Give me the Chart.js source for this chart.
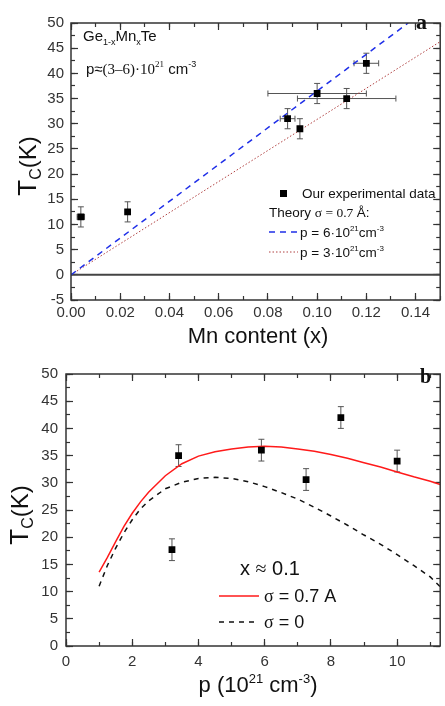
<!DOCTYPE html>
<html>
<head>
<meta charset="utf-8">
<script src="https://cdn.jsdelivr.net/npm/chart.js@4/dist/chart.umd.min.js"></script>
<style>
body { margin: 0; background: #fff; width: 445px; height: 706px; overflow: hidden; }
#wrapA { position: absolute; left: 0; top: 0; width: 445px; height: 350px; }
#wrapB { position: absolute; left: 0; top: 350px; width: 445px; height: 356px; }
</style>
</head>
<body>
<div id="wrapA"><canvas id="chartA"></canvas></div>
<div id="wrapB"><canvas id="chartB"></canvas></div>
<script>
// panel a: Tc against Mn content
const mnX = [0.004, 0.023, 0.088, 0.093, 0.100, 0.112, 0.120];
const mnTc = [11.5, 12.5, 31, 29, 36, 35, 42];
const mnXErr = [0.0015, 0, 0.003, 0, 0.02, 0.02, 0.005];
const mnTcErr = [2, 2, 2, 2, 2, 2, 2];
const theoryX = [0, 0.137];
const theoryP6 = [0, 50];
const theoryX3 = [0, 0.15];
const theoryP3 = [0, 46.3];
const zeroX = [0, 0.15];
const zeroY = [0, 0];

// panel b: Tc against carrier density, x ~ 0.1
const carrierP = [3.2, 3.4, 5.9, 7.25, 8.3, 10.0];
const carrierTc = [17.7, 35, 36, 30.6, 42, 34];
const carrierTcErr = [2, 2, 2, 2, 2, 2];
const curveP = [1.0, 1.25, 1.5, 1.75, 2.0, 2.25, 2.5, 3.0, 3.5, 4.0, 4.5, 5.0, 5.5, 6.0, 6.5, 7.0, 7.5, 8.0, 8.5, 9.0, 9.5, 10.0, 10.5, 11.0, 11.3];
const curveSigma07 = [13.6, 16.3, 19.2, 22.0, 24.4, 26.5, 28.3, 31.3, 33.5, 34.9, 35.7, 36.2, 36.6, 36.7, 36.6, 36.2, 35.8, 35.2, 34.5, 33.7, 32.9, 32.0, 31.1, 30.3, 29.7];
const curveSigma0 = [11.0, 14.8, 18.0, 20.8, 23.2, 25.2, 26.7, 28.9, 30.1, 30.8, 31.0, 30.8, 30.2, 29.3, 28.2, 27.0, 25.5, 23.9, 22.2, 20.4, 18.7, 16.8, 14.8, 12.7, 10.9];

const SANS = 'Liberation Sans';
const SERIF = 'Liberation Serif';
const TICK_COLOR = '#333';
const pts = (xs, ys) => xs.map((x, i) => ({ x: x, y: ys[i] }));

// draws a run of text pieces: [text, font, dy]
function rich(ctx, x, y, parts, align) {
    let w = 0;
    parts.forEach(p => { ctx.font = p[1]; w += ctx.measureText(p[0]).width; });
    let cx = align === 'center' ? x - w / 2 : x;
    parts.forEach(p => {
        ctx.font = p[1];
        ctx.fillText(p[0], cx, y + (p[2] || 0));
        cx += ctx.measureText(p[0]).width;
    });
}

// inward tick marks: negative tickLength, no labels, zero size in the layout
function tickAxis(pos, min, max, step, len, weight) {
    return {
        type: 'linear', position: pos, min: min, max: max, weight: weight,
        grid: { display: true, drawOnChartArea: false, drawTicks: true, tickLength: -len, tickColor: TICK_COLOR, tickWidth: 1.2 },
        border: { display: false },
        ticks: { display: false, stepSize: step, includeBounds: false, autoSkip: false },
        afterFit: s => { if (s.isHorizontal()) s.height = 0; else s.width = 0; }
    };
}

// the labelled axis: major inward ticks plus tick labels
function mainAxis(pos, min, max, step, padding, size, callback) {
    return {
        type: 'linear', position: pos, min: min, max: max, weight: 0,
        grid: { display: true, drawOnChartArea: false, drawTicks: true, tickLength: -7, tickColor: TICK_COLOR, tickWidth: 1.2 },
        border: { display: false },
        ticks: { stepSize: step, includeBounds: false, autoSkip: false, maxRotation: 0, padding: padding + 7, color: '#333', font: { family: SANS, size: 15 }, callback: callback },
        afterFit: s => { if (s.isHorizontal()) s.height = size; else s.width = size; }
    };
}

function frameScales(x, y) {
    return {
        x: mainAxis('bottom', x.min, x.max, x.major, x.pad, x.size, x.fmt),
        xMinor: tickAxis('bottom', x.min, x.max, x.minor, 4, -1),
        xTop: tickAxis('top', x.min, x.max, x.major, 7, 0),
        xTopMinor: tickAxis('top', x.min, x.max, x.minor, 4, -1),
        y: mainAxis('left', y.min, y.max, y.major, y.pad, y.size, y.fmt),
        yMinor: tickAxis('left', y.min, y.max, y.minor, 4, -1),
        yRight: tickAxis('right', y.min, y.max, y.major, 7, 0),
        yRightMinor: tickAxis('right', y.min, y.max, y.minor, 4, -1),
    };
}

// box round the plot
const frameBox = {
    id: 'frameBox',
    afterDraw(chart) {
        const ctx = chart.ctx;
        const a = chart.chartArea;
        ctx.save();
        ctx.strokeStyle = '#333';
        ctx.lineWidth = 1.5;
        ctx.strokeRect(a.left, a.top, a.right - a.left, a.bottom - a.top);
        ctx.restore();
    }
};

// error bars for dataset 0
function errorBars(xErr, yErr) {
    return {
        id: 'errorBars',
        beforeDatasetsDraw(chart) {
            const ctx = chart.ctx;
            const x = chart.scales.x, y = chart.scales.y;
            const data = chart.data.datasets[0].data;
            ctx.save();
            ctx.strokeStyle = '#555';
            ctx.lineWidth = 1;
            ctx.beginPath();
            data.forEach((d, i) => {
                const px = x.getPixelForValue(d.x);
                const py = y.getPixelForValue(d.y);
                const ye = yErr ? yErr[i] : 0;
                const xe = xErr ? xErr[i] : 0;
                if (ye) {
                    const t = y.getPixelForValue(d.y + ye), b = y.getPixelForValue(d.y - ye);
                    ctx.moveTo(px, t); ctx.lineTo(px, b);
                    ctx.moveTo(px - 3, t); ctx.lineTo(px + 3, t);
                    ctx.moveTo(px - 3, b); ctx.lineTo(px + 3, b);
                }
                if (xe) {
                    const l = x.getPixelForValue(d.x - xe), r = x.getPixelForValue(d.x + xe);
                    ctx.moveTo(l, py); ctx.lineTo(r, py);
                    ctx.moveTo(l, py - 3); ctx.lineTo(l, py + 3);
                    ctx.moveTo(r, py - 3); ctx.lineTo(r, py + 3);
                }
            });
            ctx.stroke();
            ctx.restore();
        }
    };
}

const notesA = {
    id: 'notesA',
    afterDraw(chart) {
        const ctx = chart.ctx;
        ctx.save();
        ctx.fillStyle = '#111';
        ctx.textBaseline = 'alphabetic';
        rich(ctx, 83, 41, [['Ge', '15px ' + SANS], ['1-x', '9px ' + SANS, 4], ['Mn', '15px ' + SANS], ['x', '9px ' + SANS, 4], ['Te', '15px ' + SANS]]);
        rich(ctx, 86, 74, [['p\u2248', '15px ' + SANS], ['(3\u20136)\u00b710', '15px ' + SERIF], ['21', '9px ' + SERIF, -7], [' cm', '15px ' + SANS], ['-3', '9px ' + SANS, -7]]);
        rich(ctx, 416, 29, [['a', 'bold 22px ' + SERIF]]);
        // legend
        ctx.fillStyle = '#000';
        ctx.fillRect(280, 190, 7, 7);
        ctx.fillStyle = '#111';
        rich(ctx, 302, 198, [['Our experimental data', '13.5px ' + SANS]]);
        rich(ctx, 269, 217, [['Theory ', '13.5px ' + SANS], ['\u03c3 = 0.7 ', '13.5px ' + SERIF], ['\u00c5:', '13.5px ' + SANS]]);
        rich(ctx, 300, 237, [['p = 6\u00b710', '13.5px ' + SANS], ['21', '8px ' + SANS, -6], ['cm', '13.5px ' + SANS], ['-3', '8px ' + SANS, -6]]);
        rich(ctx, 300, 257, [['p = 3\u00b710', '13.5px ' + SANS], ['21', '8px ' + SANS, -6], ['cm', '13.5px ' + SANS], ['-3', '8px ' + SANS, -6]]);
        ctx.lineWidth = 1.5;
        ctx.strokeStyle = '#1f2fe8';
        ctx.setLineDash([6, 5]);
        ctx.beginPath(); ctx.moveTo(269, 232); ctx.lineTo(298, 232); ctx.stroke();
        ctx.lineWidth = 1;
        ctx.strokeStyle = '#b04040';
        ctx.setLineDash([1.5, 2]);
        ctx.beginPath(); ctx.moveTo(269, 252); ctx.lineTo(298, 252); ctx.stroke();
        ctx.setLineDash([]);
        // axis titles
        rich(ctx, 258, 343, [['Mn content (x)', '22px ' + SANS]], 'center');
        ctx.translate(36, 166);
        ctx.rotate(-Math.PI / 2);
        rich(ctx, 0, 0, [['T', '26px ' + SANS], ['C', '16px ' + SANS, 5], ['(K)', '24px ' + SANS]], 'center');
        ctx.restore();
    }
};

const notesB = {
    id: 'notesB',
    afterDraw(chart) {
        const ctx = chart.ctx;
        ctx.save();
        ctx.fillStyle = '#111';
        ctx.textBaseline = 'alphabetic';
        rich(ctx, 420, 33, [['b', 'bold 20px ' + SERIF]]);
        rich(ctx, 240, 225, [['x ', '20px ' + SANS], ['\u2248', '20px ' + SERIF], [' 0.1', '20px ' + SANS]]);
        rich(ctx, 264, 252, [['\u03c3', '18px ' + SERIF], [' = 0.7 A', '18px ' + SANS]]);
        rich(ctx, 264, 278, [['\u03c3', '18px ' + SERIF], [' = 0', '18px ' + SANS]]);
        ctx.lineWidth = 1.5;
        ctx.strokeStyle = '#ff1a1a';
        ctx.beginPath(); ctx.moveTo(219, 246); ctx.lineTo(259, 246); ctx.stroke();
        ctx.strokeStyle = '#111';
        ctx.setLineDash([5, 5]);
        ctx.beginPath(); ctx.moveTo(219, 272); ctx.lineTo(259, 272); ctx.stroke();
        ctx.setLineDash([]);
        rich(ctx, 258, 342, [['p (10', '22px ' + SANS], ['21', '13px ' + SANS, -9], [' cm', '22px ' + SANS], ['-3', '13px ' + SANS, -9], [')', '22px ' + SANS]], 'center');
        ctx.translate(28, 165);
        ctx.rotate(-Math.PI / 2);
        rich(ctx, 0, 0, [['T', '26px ' + SANS], ['C', '16px ' + SANS, 5], ['(K)', '24px ' + SANS]], 'center');
        ctx.restore();
    }
};

new Chart(document.getElementById('chartA'), {
    type: 'scatter',
    data: {
        datasets: [
            { data: pts(mnX, mnTc), pointStyle: 'rect', pointRadius: 4.8, backgroundColor: '#000', borderColor: '#000', borderWidth: 0 },
            { type: 'line', data: pts(theoryX, theoryP6), borderColor: '#1f2fe8', borderWidth: 1.5, borderDash: [6, 5], pointRadius: 0, fill: false },
            { type: 'line', data: pts(theoryX3, theoryP3), borderColor: '#b04040', borderWidth: 1, borderDash: [1.5, 2], pointRadius: 0, fill: false },
            { type: 'line', data: pts(zeroX, zeroY), borderColor: '#444', borderWidth: 2, pointRadius: 0, fill: false },
        ]
    },
    options: {
        responsive: true,
        maintainAspectRatio: false,
        animation: false,
        layout: { padding: { top: 9, right: 2, left: 0, bottom: 0 } },
        plugins: { legend: { display: false }, tooltip: { enabled: false } },
        scales: frameScales(
            { min: 0, max: 0.15, major: 0.02, minor: 0.01, pad: 4, size: 50, fmt: v => v.toFixed(2) },
            { min: -5, max: 50, major: 5, minor: 2.5, pad: 7, size: 71, fmt: v => v }
        )
    },
    plugins: [errorBars(mnXErr, mnTcErr), frameBox, notesA]
});

new Chart(document.getElementById('chartB'), {
    type: 'scatter',
    data: {
        datasets: [
            { data: pts(carrierP, carrierTc), pointStyle: 'rect', pointRadius: 4.8, backgroundColor: '#000', borderColor: '#000', borderWidth: 0 },
            { type: 'line', data: pts(curveP, curveSigma07), borderColor: '#ff1a1a', borderWidth: 1.5, pointRadius: 0, fill: false },
            { type: 'line', data: pts(curveP, curveSigma0), borderColor: '#111', borderWidth: 1.5, borderDash: [5, 5], pointRadius: 0, fill: false },
        ]
    },
    options: {
        responsive: true,
        maintainAspectRatio: false,
        animation: false,
        layout: { padding: { top: 4, right: 2, left: 0, bottom: 0 } },
        plugins: { legend: { display: false }, tooltip: { enabled: false } },
        scales: frameScales(
            { min: 0, max: 11.3, major: 2, minor: 1, pad: 7, size: 60, fmt: v => v },
            { min: 0, max: 50, major: 5, minor: 2.5, pad: 8, size: 66, fmt: v => v }
        )
    },
    plugins: [errorBars(null, carrierTcErr), frameBox, notesB]
});
</script>
</body>
</html>
